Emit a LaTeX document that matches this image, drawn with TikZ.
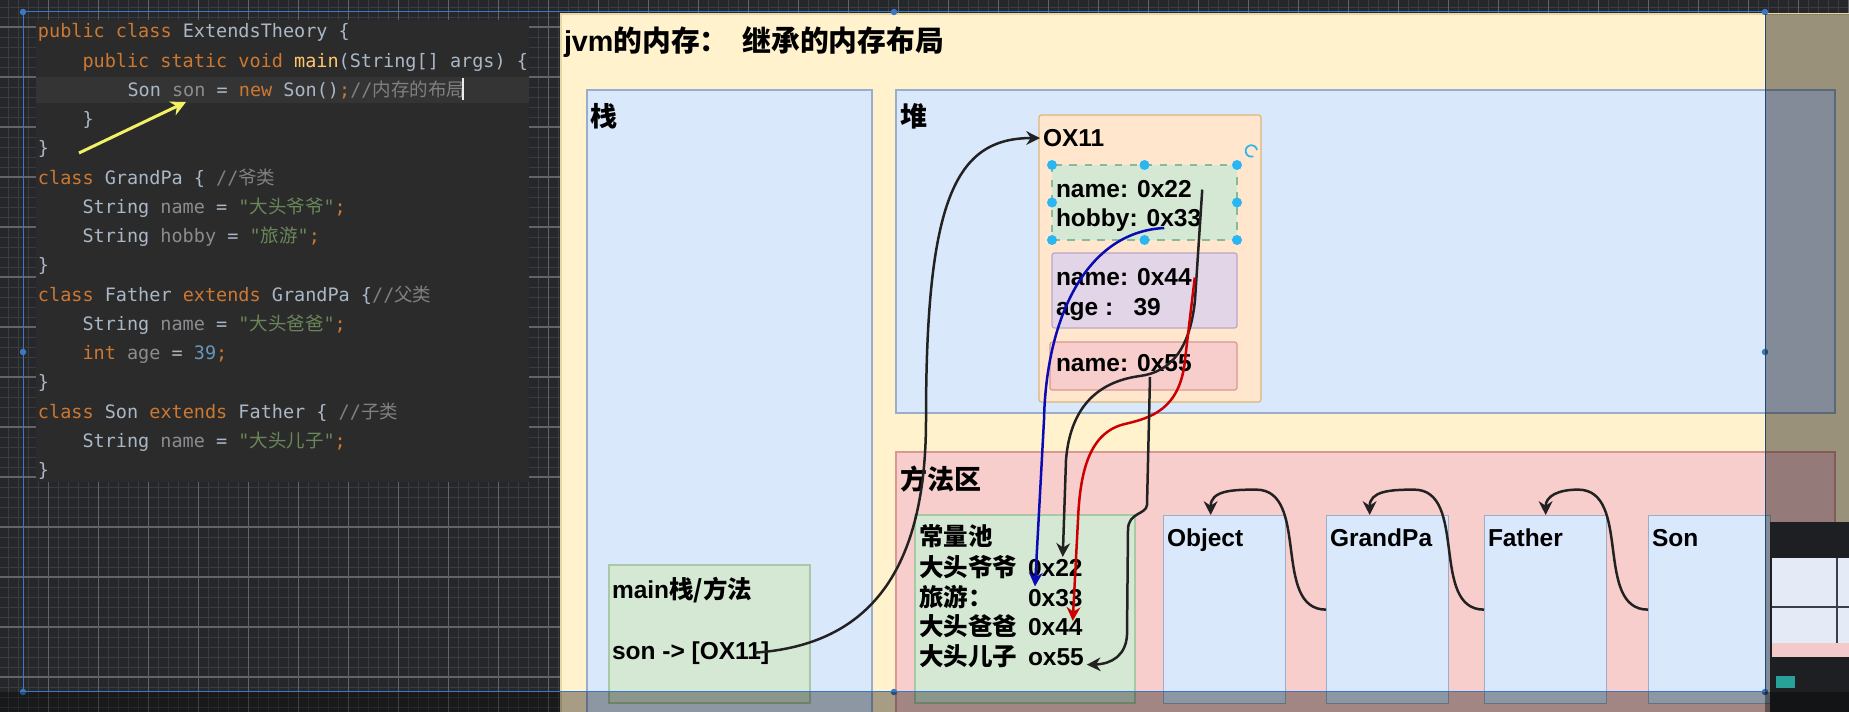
\documentclass[tikz,border=0pt]{standalone}
\usepackage{fontspec}
\setmainfont{Liberation Sans}
\newfontfamily\cjk{Noto Sans CJK SC}
\newfontfamily\codefont{DejaVu Sans Mono}
\usepackage{tikz}
\usetikzlibrary{arrows.meta, calc}
\usepackage{xcolor}
% editor colours
\definecolor{darkbg}{HTML}{26272B}
\definecolor{gridminor}{HTML}{3A3C40}
\definecolor{gridmajor}{HTML}{626469}
\definecolor{codebg}{HTML}{2B2B2B}
\definecolor{codeline}{HTML}{343434}
\definecolor{plaincol}{HTML}{A9B7C6}
\definecolor{kwcol}{HTML}{CC7832}
\definecolor{fldcol}{HTML}{8A8C90}
\definecolor{strcol}{HTML}{6A8759}
\definecolor{numcol}{HTML}{6897BB}
\definecolor{cmtcol}{HTML}{808080}
\definecolor{fncol}{HTML}{FFC66D}
% diagram colours
\definecolor{jvmyellow}{HTML}{FFF2CC}
\definecolor{yellowline}{HTML}{E6D7A6}
\definecolor{memblue}{HTML}{DAE8FC}
\definecolor{blueline}{HTML}{9AAECB}
\definecolor{objorange}{HTML}{FFE6CC}
\definecolor{orangeline}{HTML}{DDB57C}
\definecolor{fldgreen}{HTML}{D5E8D4}
\definecolor{fldpurple}{HTML}{E1D5E7}
\definecolor{purpleline}{HTML}{BCA6C9}
\definecolor{fldred}{HTML}{F8CECC}
\definecolor{redline}{HTML}{D99894}
\definecolor{greenline}{HTML}{A9C8A5}
\definecolor{ptrblack}{HTML}{222222}
\definecolor{ptrblue}{HTML}{0B0BB4}
\definecolor{ptrred}{HTML}{CC0000}
\definecolor{handlecol}{HTML}{29B6F2}
\definecolor{selcol}{HTML}{3B78C4}
\definecolor{annoyellow}{HTML}{F2F064}
\definecolor{popdark}{HTML}{1E1F22}
\definecolor{popwhite}{HTML}{E4EAF6}
\definecolor{popline}{HTML}{3A3F4A}
\definecolor{poppink}{HTML}{F3C9C9}
\definecolor{popteal}{HTML}{2AA198}

\newcommand{\kwd}[1]{\textcolor{kwcol}{#1}}
\newcommand{\fldn}[1]{\textcolor{fldcol}{#1}}
\newcommand{\strlit}[1]{\textcolor{strcol}{#1}}
\newcommand{\numlit}[1]{\textcolor{numcol}{#1}}
\newcommand{\cmnt}[1]{\textcolor{cmtcol}{#1}}

\tikzset{
  code/.style={anchor=base west, inner sep=0pt, text=plaincol,
    font=\codefont\fontsize{7.4}{9}\selectfont},
  lbl/.style={anchor=base west, inner sep=1pt, text=black,
    font=\bfseries\fontsize{9.8}{11.8}\selectfont},
  sect/.style={anchor=base west, inner sep=1pt,
    font=\cjk\bfseries\fontsize{10.8}{13}\selectfont},
  ttl/.style={anchor=base west, inner sep=1pt,
    font=\bfseries\fontsize{11.5}{14}\selectfont},
  area/.style={draw=blueline, line width=0.5pt},
  clsbox/.style={draw=blueline, fill=memblue, line width=0.5pt, anchor=north west,
    inner sep=0pt, minimum width=48.8pt, minimum height=75.2pt},
  ptr/.style={draw=ptrblack, line width=1pt, -{Stealth[length=5.5pt,width=5.5pt]}},
}

\begin{document}
\begin{tikzpicture}[x=0.4pt, y=-0.4pt]
  \useasboundingbox (0,0) rectangle (1849,712);
  \clip (0,0) rectangle (1849,712);
  % editor background with grid
  \fill[darkbg] (0,0) rectangle (1849,712);
  \foreach \x in {8.7,18.7,...,1849} \draw[gridminor, line width=0.3pt] (\x,0) -- (\x,712);
  \foreach \y in {7,17,...,712} \draw[gridminor, line width=0.3pt] (0,\y) -- (1849,\y);
  \foreach \x in {48.7,98.7,...,1849} \draw[gridmajor, line width=0.45pt] (\x,0) -- (\x,712);
  \foreach \y in {27,77,...,712} \draw[gridmajor, line width=0.45pt] (0,\y) -- (1849,\y);

  % code panel
  \fill[codebg] (36,20) rectangle (529,482);
  \fill[codeline] (36,77) rectangle (529,103);
  \node[code] (c1) at (37.5,38) {\kwd{public class} ExtendsTheory \{};
  \node[code] (c2) at (82,67.3) {\kwd{public static void} \textcolor{fncol}{main}(String[] args) \{};
  \node[code] (c3) at (127,96.5) {Son \fldn{son} = \kwd{new} Son()\kwd{;}\cmnt{//{\cjk 内存的布局}}};
  \node[code] (c4) at (82,125.8) {\}};
  \node[code] (c5) at (37.5,155) {\}};
  \node[code] (c6) at (37.5,184.3) {\kwd{class} GrandPa \{ \cmnt{//{\cjk 爷类}}};
  \node[code] (c7) at (82,213.5) {String \fldn{name} = \strlit{"{\cjk 大头爷爷}"}\kwd{;}};
  \node[code] (c8) at (82,242.8) {String \fldn{hobby} = \strlit{"{\cjk 旅游}"}\kwd{;}};
  \node[code] (c9) at (37.5,272) {\}};
  \node[code] (c10) at (37.5,301.3) {\kwd{class} Father \kwd{extends} GrandPa \{\cmnt{//{\cjk 父类}}};
  \node[code] (c11) at (82,330.5) {String \fldn{name} = \strlit{"{\cjk 大头爸爸}"}\kwd{;}};
  \node[code] (c12) at (82,359.8) {\kwd{int} \fldn{age} = \numlit{39}\kwd{;}};
  \node[code] (c13) at (37.5,389) {\}};
  \node[code] (c14) at (37.5,418.3) {\kwd{class} Son \kwd{extends} Father \{ \cmnt{//{\cjk 子类}}};
  \node[code] (c15) at (82,447.5) {String \fldn{name} = \strlit{"{\cjk 大头儿子}"}\kwd{;}};
  \node[code] (c16) at (37.5,476.8) {\}};
  \draw[white!85!gray, line width=0.5pt] (463,78) -- (463,100);
  % yellow hint arrow
  \coordinate (ystart) at (79,153);
  \coordinate (yend) at (186,102);
  \draw[annoyellow, line width=1.2pt, -{Stealth[length=6pt,width=6pt]}] (ystart) -- (yend);

  % jvm memory frame
  \filldraw[fill=jvmyellow, draw=yellowline, line width=0.5pt] (561,14) rectangle (1880,730);
  \filldraw[area, fill=memblue] (587,90) rectangle (872,730);
  \filldraw[area, fill=memblue] (896,90) rectangle (1835,413);
  \filldraw[area, draw=redline, fill=fldred] (896,452) rectangle (1835,730);
  % object in heap
  \filldraw[draw=orangeline, fill=objorange, line width=0.5pt, rounded corners=1pt] (1039,115) rectangle (1261,402);
  \filldraw[draw=greenline!80!teal, fill=fldgreen, line width=0.5pt, dashed] (1052,165) rectangle (1237,240);
  \filldraw[draw=purpleline, fill=fldpurple, line width=0.5pt, rounded corners=1pt] (1052,253) rectangle (1237,328);
  \filldraw[draw=redline, fill=fldred, line width=0.5pt, rounded corners=1pt] (1050,342) rectangle (1237,390);
  % main frame and constant pool
  \filldraw[draw=greenline, fill=fldgreen, line width=0.5pt] (609,565) rectangle (810,703);
  \filldraw[draw=greenline, fill=fldgreen, line width=0.5pt] (915,515) rectangle (1135,703);
  % classes
  \node[clsbox] (obj) at (1163,515) {};
  \node[clsbox] (gp) at (1326,515) {};
  \node[clsbox] (fa) at (1484,515) {};
  \node[clsbox] (sonc) at (1648,515) {};

  % labels
  \node[ttl] (title) at (561,52) {jvm{\cjk 的内存：\hspace{3pt} 继承的内存布局}};
  \node[sect] (zhan) at (587,127) {栈};
  \node[sect] (dui) at (897,127) {堆};
  \node[sect] (ffq) at (897,490) {方法区};
  \node[lbl] (ox) at (1040,146.5) {OX11};
  \node[lbl] (f22) at (1053,198) {name: 0x22};
  \node[lbl] (fhobby) at (1053,227) {hobby: 0x33};
  \node[lbl] (f44) at (1053,286) {name: 0x44};
  \node[lbl] (fage) at (1053,316) {age :\ \ \ 39};
  \node[lbl] (f55) at (1053,372) {name: 0x55};
  \node[lbl] (mainlbl) at (609,599) {main{\cjk 栈/方法}};
  \node[lbl] (sonref) at (609,659) {son -> [OX11]};
  \node[lbl] (pool) at (916,546) {\cjk 常量池};
  \node[lbl] (k22) at (916,577) {\cjk 大头爷爷};
  \node[lbl] (k33) at (916,606.5) {\cjk 旅游：};
  \node[lbl] (k44) at (916,636) {\cjk 大头爸爸};
  \node[lbl] (k55) at (916,665.5) {\cjk 大头儿子};
  \node[lbl] (h22) at (1025,577) {0x22};
  \node[lbl] (h33) at (1025,606.5) {0x33};
  \node[lbl] (h44) at (1025,636) {0x44};
  \node[lbl] (h55) at (1025,665.5) {ox55};
  \node[lbl] (objl) at (1164,547) {Object};
  \node[lbl] (gpl) at (1327,547) {GrandPa};
  \node[lbl] (fal) at (1485,547) {Father};
  \node[lbl] (sonl) at (1649,547) {Son};

  % references
  \draw[ptr] ([xshift=-7pt]sonref.east) .. controls (870,645) and (926,570) .. (926,420)
    .. controls (926,200) and (955,138) .. (ox.west);
  \draw[ptr, draw=ptrblue] ($(fhobby.base east)+(-40,1)$) .. controls (1085,232) and (1046,320) .. (1044,420)
    -- ([xshift=4pt]h33.north west);
  \draw[ptr] ([xshift=3pt]f22.east) -- (1195,300) .. controls (1190,350) and (1170,372) .. (1140,376)
    .. controls (1095,382) and (1070,410) .. (1066,460) -- ([xshift=3pt]h22.north);
  \draw[ptr, draw=ptrred] (f44.east) -- (1185,360) .. controls (1180,410) and (1150,418) .. (1125,424)
    .. controls (1090,432) and (1080,470) .. (1078,520) -- ([xshift=7pt,yshift=-2pt]h44.north);
  \draw[ptr] ($(f55.base west)+(97,5)$) -- (1147,505) .. controls (1146,515) and (1128,512) .. (1128,530)
    -- (1127,635) .. controls (1126,655) and (1112,664) .. ([yshift=-3pt]h55.east);
  % inheritance
  \foreach \a/\b/\s in {gp/obj/-14, fa/gp/-18, sonc/fa/0}
    \draw[ptr] (\a.west) to[out=180,in=0] ($(\a.west)+(-70,-120)$) to[out=180,in=90,looseness=1.2] ([xshift=\s*0.4pt]\b.north);

  % selection handles
  \foreach \p in {(1052,165),(1144.5,165),(1237,165),(1052,202.5),(1237,202.5),(1052,240),(1144.5,240),(1237,240)}
    \fill[handlecol] \p circle (2pt);
  \draw[handlecol, line width=0.7pt] (1257,150) arc[start angle=10, end angle=290, radius=2.3pt];
  \draw[selcol, line width=0.4pt] (23,12) rectangle (1765,692);
  \foreach \p in {(23,12),(894,12),(1765,12),(23,352),(1765,352),(23,692),(894,692),(1765,692)}
    \fill[selcol] \p circle (1.3pt);

  % shaded right edge, floating panel, bottom bar
  \fill[black, opacity=0.4] (1765,14) rectangle (1849,712);
  \fill[popdark] (1770,522) rectangle (1849,712);
  \fill[popwhite] (1772,558) rectangle (1849,643);
  \draw[popline, line width=1pt] (1772,607) -- (1849,607) (1837,558) -- (1837,643);
  \fill[poppink] (1772,643) rectangle (1849,657);
  \fill[popteal] (1776,676) rectangle (1795,688);
  \fill[black, opacity=0.35] (0,692) rectangle (1849,712);
\end{tikzpicture}
\end{document}
